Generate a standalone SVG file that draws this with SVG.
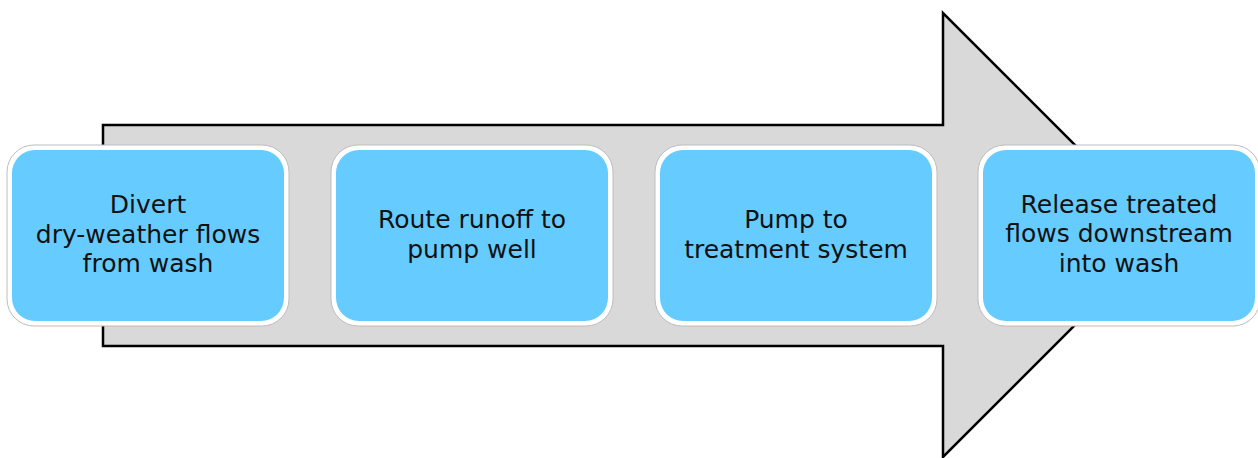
<svg xmlns="http://www.w3.org/2000/svg" width="1258" height="458" viewBox="0 0 1258 458">
<style>
.arrow{fill:#d9d9d9;stroke:#000;stroke-width:2.5;stroke-linejoin:miter}
.outer{fill:#fff;stroke:#bdbdbd;stroke-width:1}
.inner{fill:#66cbff}
.t{font-family:"DejaVu Sans",sans-serif;font-size:25px;fill:#111;text-anchor:middle}
</style>
<rect width="1258" height="458" fill="#fff"/>
<g id="arrow">
<polygon class="arrow" points="103,125 943,125 943,13 1165,235 943,457 943,346 103,346"/>
</g>
<g id="connectors"></g>
<g id="step1">
<rect class="outer" x="7" y="145" width="282" height="181" rx="27"/>
<rect class="inner" x="12" y="150" width="272" height="171" rx="23"/>
<text class="t" x="148" y="213">Divert</text>
<text class="t" x="148" y="243">dry-weather flows</text>
<text class="t" x="148" y="272">from wash</text>
</g>
<g id="step2">
<rect class="outer" x="331" y="145" width="282" height="181" rx="27"/>
<rect class="inner" x="336" y="150" width="272" height="171" rx="23"/>
<text class="t" x="472" y="228">Route runoff to</text>
<text class="t" x="472" y="258">pump well</text>
</g>
<g id="step3">
<rect class="outer" x="655" y="145" width="282" height="181" rx="27"/>
<rect class="inner" x="660" y="150" width="272" height="171" rx="23"/>
<text class="t" x="796" y="228">Pump to</text>
<text class="t" x="796" y="258">treatment system</text>
</g>
<g id="step4">
<rect class="outer" x="978" y="145" width="282" height="181" rx="27"/>
<rect class="inner" x="983" y="150" width="272" height="171" rx="23"/>
<text class="t" x="1119" y="213">Release treated</text>
<text class="t" x="1119" y="242">flows downstream</text>
<text class="t" x="1119" y="272">into wash</text>
</g>
</svg>
